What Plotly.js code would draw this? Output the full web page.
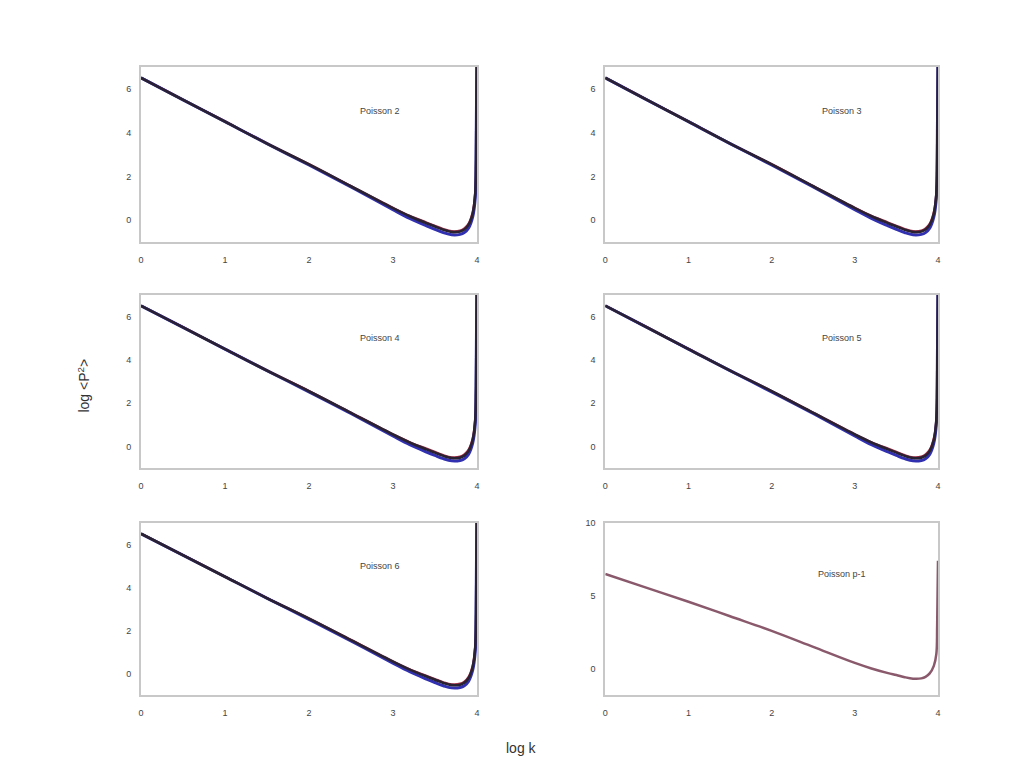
<!DOCTYPE html>
<html>
<head>
<meta charset="utf-8">
<script src="https://cdn.plot.ly/plotly-3.0.1.min.js"></script>
<style>
  body { margin: 0; background: #fff; }
  #chart { width: 1019px; height: 771px; }
</style>
</head>
<body>
<div id="chart"></div>
<script>
// log k samples shared by all panels
const logK = [0, 0.5, 1, 1.5, 2, 2.5, 3, 3.2, 3.4, 3.5, 3.6, 3.7, 3.8, 3.85, 3.9, 3.95, 3.98, 3.99, 4.0];

// upper (red), middle (black) and lower (blue) edges of the thick curve
const upperP2 = [6.52, 5.52, 4.52, 3.52, 2.57, 1.57, 0.57, 0.2, -0.1, -0.25, -0.4, -0.5, -0.47, -0.37, -0.15, 0.4, 1.3, 2.9, 7.6];
const middleP2 = [6.5, 5.5, 4.5, 3.5, 2.55, 1.55, 0.55, 0.18, -0.14, -0.29, -0.44, -0.54, -0.52, -0.43, -0.22, 0.3, 1.2, 2.8, 7.6];
const lowerP2 = [6.5, 5.5, 4.5, 3.5, 2.52, 1.52, 0.48, 0.08, -0.26, -0.42, -0.57, -0.67, -0.65, -0.57, -0.37, 0.15, 1.0, 2.6, 7.6];

// last panel (Poisson p-1)
const lastP2 = [6.5, 5.55, 4.6, 3.6, 2.6, 1.5, 0.4, 0.02, -0.3, -0.43, -0.58, -0.68, -0.66, -0.56, -0.32, 0.2, 1.0, 3.0, 7.4];

const panelNames = ['Poisson 2', 'Poisson 3', 'Poisson 4', 'Poisson 5', 'Poisson 6', 'Poisson p-1'];
const xTicks = [0, 1, 2, 3, 4];
const yTicks = [0, 2, 4, 6];
const yTicksLast = [0, 5, 10];

const colX = [[0.1384, 0.468], [0.594, 0.9205]];
const rowY = [[0.6861, 0.9131], [0.393, 0.6174], [0.0986, 0.3217]];

const traces = [];
const layout = {
  width: 1019,
  height: 771,
  margin: { l: 0, r: 0, t: 0, b: 0 },
  paper_bgcolor: '#fff',
  plot_bgcolor: '#fff',
  showlegend: false,
  font: { family: 'Liberation Sans, Arial, sans-serif', color: '#555' },
  annotations: []
};

panelNames.forEach((name, i) => {
  const n = i + 1;
  const xa = n === 1 ? 'x' : 'x' + n;
  const ya = n === 1 ? 'y' : 'y' + n;
  const last = i === 5;
  const axStyle = {
    showgrid: false, zeroline: false, showline: true, mirror: true,
    linecolor: '#c8c8c8', linewidth: 2, ticks: '',
    tickfont: { size: 9, color: '#444' }
  };

  layout['xaxis' + (n === 1 ? '' : n)] = Object.assign({}, axStyle, {
    domain: colX[i % 2], anchor: ya, range: [0, 4],
    tickvals: xTicks, ticklabelstandoff: 8
  });
  layout['yaxis' + (n === 1 ? '' : n)] = Object.assign({}, axStyle, {
    domain: rowY[Math.floor(i / 2)], anchor: xa,
    range: last ? [-1.8, 10] : [-1, 7],
    tickvals: last ? yTicksLast : yTicks, ticklabelstandoff: 6
  });

  if (last) {
    traces.push({ x: logK, y: lastP2, xaxis: xa, yaxis: ya, type: 'scatter', mode: 'lines',
      line: { color: '#8a5a6c', width: 2.5, shape: 'spline' } });
  } else {
    traces.push({ x: logK, y: upperP2, xaxis: xa, yaxis: ya, type: 'scatter', mode: 'lines',
      line: { color: '#a03048', width: 2, shape: 'spline' } });
    traces.push({ x: logK, y: lowerP2, xaxis: xa, yaxis: ya, type: 'scatter', mode: 'lines',
      line: { color: '#3030b0', width: 3, shape: 'spline' } });
    traces.push({ x: logK, y: middleP2, xaxis: xa, yaxis: ya, type: 'scatter', mode: 'lines',
      line: { color: '#2a2232', width: 2.6, shape: 'spline' } });
  }

  layout.annotations.push({
    text: name, xref: xa, yref: ya, x: 2.85, y: last ? 6.5 : 5.0,
    showarrow: false, font: { size: 9, color: '#444' }
  });
});

layout.annotations.push({
  text: 'log &lt;P<sup>2</sup>&gt;', xref: 'paper', yref: 'paper', x: 0.0707, y: 0.5,
  textangle: -90, showarrow: false, font: { size: 14, color: '#333' }
});
layout.annotations.push({
  text: 'log k', xref: 'paper', yref: 'paper', x: 0.512, y: 0.017,
  showarrow: false, font: { size: 14, color: '#333' }
});

Plotly.newPlot('chart', traces, layout, { staticPlot: true });
</script>
</body>
</html>
